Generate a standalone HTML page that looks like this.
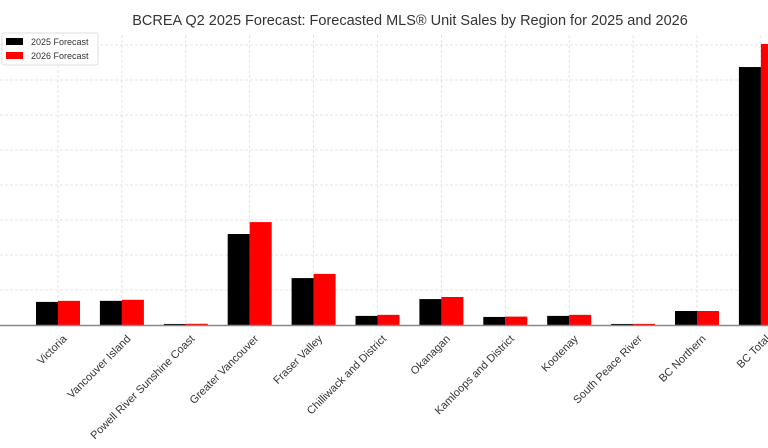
<!DOCTYPE html>
<html><head><meta charset="utf-8"><style>
body{margin:0;background:#fff;}
svg{display:block;font-family:"Liberation Sans","DejaVu Sans",sans-serif;}
</style></head><body>
<svg id="chart" width="768" height="448">
<text x="410" y="25" text-anchor="middle" font-size="14.5" fill="#333">BCREA Q2 2025 Forecast: Forecasted MLS® Unit Sales by Region for 2025 and 2026</text>
<g id="grid"></g><g id="bars"></g><g id="xlabels"></g>
<line x1="0" y1="325.5" x2="768" y2="325.5" stroke="#888" stroke-width="1.5"/>
<g>
<rect x="2" y="33" width="96" height="32" fill="#fff" stroke="#ddd" rx="2"/>
<rect x="6" y="38" width="17" height="7" fill="#000"/>
<text x="31" y="45" font-size="9" fill="#333">2025 Forecast</text>
<rect x="6" y="52" width="17" height="7" fill="#f00"/>
<text x="31" y="59" font-size="9" fill="#333">2026 Forecast</text>
</g>
</svg>
<script>
const categories=["Victoria","Vancouver Island","Powell River Sunshine Coast","Greater Vancouver","Fraser Valley","Chilliwack and District","Okanagan","Kamloops and District","Kootenay","South Peace River","BC Northern","BC Total"];
const sales2025=[6600,6900,300,26000,13400,2600,7400,2300,2600,300,4000,73700];
const sales2026=[6900,7200,350,29400,14600,2900,8000,2400,2900,330,4000,80300];
const gridValues=[10000,20000,30000,40000,50000,60000,70000,80000];
const ns="http://www.w3.org/2000/svg";
const y0=325,pxPer=35/10000;
function yScale(v){return y0-v*pxPer;}
function xScale(i){return 58+i*63.9;}
const bw=22;
const grid=document.getElementById('grid'),bars=document.getElementById('bars'),xl=document.getElementById('xlabels');
function mk(t,a,p){const e=document.createElementNS(ns,t);for(const k in a)e.setAttribute(k,a[k]);p.appendChild(e);return e;}
gridValues.forEach(v=>{const l=mk('line',{x1:0,x2:768,y1:yScale(v),y2:yScale(v),stroke:'#ddd','stroke-dasharray':'3,2','stroke-width':0.8},grid);

});
categories.forEach((c,i)=>{const x=xScale(i);
const g=mk('line',{x1:x,x2:x,y1:35,y2:y0,stroke:'#ddd','stroke-dasharray':'3,2','stroke-width':0.8},grid);


const b1=mk('rect',{x:x-bw,y:yScale(sales2025[i]),width:bw,height:y0-yScale(sales2025[i]),fill:'#000'},bars);


const b2=mk('rect',{x:x,y:yScale(sales2026[i]),width:bw,height:y0-yScale(sales2026[i]),fill:'#f00'},bars);


const t=mk('text',{x:x+4,y:334,'text-anchor':'end','font-size':11,fill:'#333',transform:`rotate(-45 ${x+4} 334)`,dy:'0.7em'},xl);
t.textContent=c;

});
</script>
</body></html>
